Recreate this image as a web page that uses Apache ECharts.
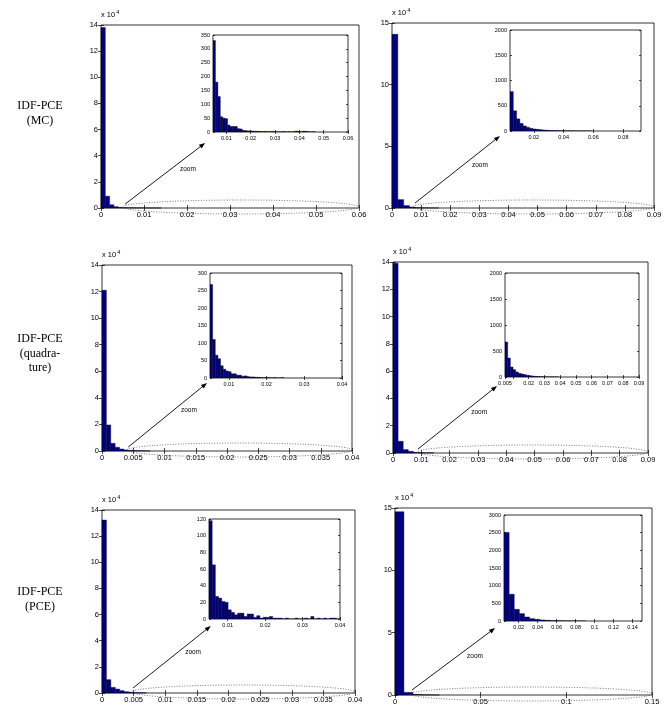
<!DOCTYPE html>
<html>
<head>
<meta charset="utf-8">
<script src="https://cdn.jsdelivr.net/npm/echarts@6/dist/echarts.min.js"></script>
<style>
html, body { margin: 0; background: #fff; }
#main { width: 665px; height: 716px; }
</style>
</head>
<body>
<div id="main"></div>
<script>
// ---- histogram data: counts per bin (main panels in units of 10^4) ----
var mcLeftMainBin = 0.001, mcLeftMainStart = 0;
var mcLeftMain = [13.8, 0.9, 0.25, 0.1, 0.05, 0.03, 0.02, 0.015, 0.01, 0.01, 0.005, 0.005, 0.004, 0.003];
var mcLeftZoomBin = 0.001, mcLeftZoomStart = 0.0045;
var mcLeftZoom = [330, 180, 128, 55, 50, 48, 25, 20, 20, 20, 12, 11, 6, 5, 4, 4, 3, 3, 2, 2, 1, 2, 1, 1, 2, 1, 1, 0, 1, 1, 0, 1, 0, 2, 3, 2, 1, 3, 2, 1, 0, 1];

var mcRightMainBin = 0.002, mcRightMainStart = 0;
var mcRightMain = [14.08, 0.68, 0.2, 0.08, 0.03, 0.015, 0.01, 0.005];
var mcRightZoomBin = 0.0022, mcRightZoomStart = 0.004;
var mcRightZoom = [780, 400, 240, 150, 100, 73, 53, 40, 33, 26, 18, 14, 10, 8, 6, 5, 4, 3, 2, 2, 1, 1, 1, 0, 1];

var quadLeftMainBin = 0.0007, quadLeftMainStart = 0;
var quadLeftMain = [12.1, 1.96, 0.58, 0.28, 0.15, 0.08, 0.05, 0.03, 0.02, 0.01, 0.01];
var quadLeftZoomBin = 0.0007, quadLeftZoomStart = 0.005;
var quadLeftZoom = [267, 110, 65, 55, 35, 25, 20, 18, 12, 12, 8, 8, 5, 6, 4, 3, 3, 2, 2, 1, 1, 1, 1, 0, 1, 0, 0, 1];

var quadRightMainBin = 0.0018, quadRightMainStart = 0;
var quadRightMain = [13.9, 0.86, 0.25, 0.12, 0.05, 0.03, 0.015, 0.01];
var quadRightZoomBin = 0.0017, quadRightZoomStart = 0.005;
var quadRightZoom = [673, 365, 192, 140, 96, 70, 58, 45, 32, 25, 18, 12, 9, 6, 4, 3, 2, 2, 1, 1];

var pceLeftMainBin = 0.0007, pceLeftMainStart = 0;
var pceLeftMain = [13.23, 1.02, 0.43, 0.3, 0.18, 0.1, 0.06, 0.04, 0.02, 0.01];
var pceLeftZoomBin = 0.00085, pceLeftZoomStart = 0.005;
var pceLeftZoom = [118, 65, 27, 25, 21, 20, 11, 8, 5, 7, 7, 3, 6, 6, 2, 4, 1, 2, 2, 3, 1, 1, 1, 0, 1, 0, 0, 1, 0, 0, 1, 0, 3, 0, 1, 0, 1, 0, 1, 1, 0];

var pceRightMainBin = 0.0052, pceRightMainStart = 0;
var pceRightMain = [14.7, 0.21, 0.05, 0.015, 0.005];
var pceRightZoomBin = 0.0054, pceRightZoomStart = 0.0045;
var pceRightZoom = [2507, 757, 331, 208, 113, 66, 47, 30, 20, 12, 8, 5, 3, 2, 1, 1];

// ---- tick labels ----
var xTicks006 = [0, 0.01, 0.02, 0.03, 0.04, 0.05, 0.06];
var xTicks009 = [0, 0.01, 0.02, 0.03, 0.04, 0.05, 0.06, 0.07, 0.08, 0.09];
var xTicks004 = [0, 0.005, 0.01, 0.015, 0.02, 0.025, 0.03, 0.035, 0.04];
var xTicks015 = [0, 0.05, 0.1, 0.15];
var yTicks14 = [0, 2, 4, 6, 8, 10, 12, 14];
var yTicks15 = [0, 5, 10, 15];

var zxTicks1 = [0.01, 0.02, 0.03, 0.04, 0.05, 0.06];
var zxTicks2 = [0.02, 0.04, 0.06, 0.08];
var zxTicks3 = [0.01, 0.02, 0.03, 0.04];
var zxTicks4 = [0.005, 0.01, 0.02, 0.03, 0.04, 0.05, 0.06, 0.07, 0.08, 0.09];
var zxLabels4 = [0.005, 0.02, 0.03, 0.04, 0.05, 0.06, 0.07, 0.08, 0.09];
var zxTicks6 = [0.02, 0.04, 0.06, 0.08, 0.1, 0.12, 0.14];
var zyTicks1 = [0, 50, 100, 150, 200, 250, 300, 350];
var zyTicks2000 = [0, 500, 1000, 1500, 2000];
var zyTicks3 = [0, 50, 100, 150, 200, 250, 300];
var zyTicks5 = [0, 20, 40, 60, 80, 100, 120];
var zyTicks6 = [0, 500, 1000, 1500, 2000, 2500, 3000];

var rowLabels = [
  {lines: ['IDF-PCE', '(MC)'], y: 99},
  {lines: ['IDF-PCE', '(quadra-', 'ture)'], y: 332},
  {lines: ['IDF-PCE', '(PCE)'], y: 585}
];

var panels = [
  {box: [101, 25, 258, 183], xr: [0, 0.06], xt: xTicks006, yr: [0, 14], yt: yTicks14,
   counts: mcLeftMain, start: mcLeftMainStart, bw: mcLeftMainBin,
   inset: {box: [213, 35, 135, 97], xr: [0.0045, 0.06], xt: zxTicks1, xl: zxTicks1, yr: [0, 350], yt: zyTicks1,
           counts: mcLeftZoom, start: mcLeftZoomStart, bw: mcLeftZoomBin},
   ann: {ellipse: [0.005, 0.06], from: [0.0056, 0.3], to: [0.0242, 4.97], text: [0.0202, 2.98]}},
  {box: [392, 23, 262, 185], xr: [0, 0.09], xt: xTicks009, yr: [0, 15], yt: yTicks15,
   counts: mcRightMain, start: mcRightMainStart, bw: mcRightMainBin,
   inset: {box: [510, 30, 131, 101], xr: [0.004, 0.092], xt: zxTicks2, xl: zxTicks2, yr: [0, 2000], yt: zyTicks2000,
           counts: mcRightZoom, start: mcRightZoomStart, bw: mcRightZoomBin},
   ann: {ellipse: [0.0069, 0.09], from: [0.0079, 0.4], to: [0.0371, 5.84], text: [0.0302, 3.49]}},
  {box: [102, 265, 250, 186], xr: [0, 0.04], xt: xTicks004, yr: [0, 14], yt: yTicks14,
   counts: quadLeftMain, start: quadLeftMainStart, bw: quadLeftMainBin,
   inset: {box: [210, 273, 132, 105], xr: [0.005, 0.04], xt: zxTicks3, xl: zxTicks3, yr: [0, 300], yt: zyTicks3,
           counts: quadLeftZoom, start: quadLeftZoomStart, bw: quadLeftZoomBin},
   ann: {ellipse: [0.004, 0.04], from: [0.0042, 0.3], to: [0.0168, 5.12], text: [0.0139, 3.09]}},
  {box: [393, 262, 255, 191], xr: [0, 0.09], xt: xTicks009, yr: [0, 14], yt: yTicks14,
   counts: quadRightMain, start: quadRightMainStart, bw: quadRightMainBin,
   inset: {box: [505, 273, 134, 104], xr: [0.005, 0.09], xt: zxTicks4, xl: zxLabels4, yr: [0, 2000], yt: zyTicks2000,
           counts: quadRightZoom, start: quadRightZoomStart, bw: quadRightZoomBin},
   ann: {ellipse: [0.0085, 0.09], from: [0.0088, 0.29], to: [0.0367, 4.91], text: [0.0304, 3.0]}},
  {box: [102, 510, 253, 183], xr: [0, 0.04], xt: xTicks004, yr: [0, 14], yt: yTicks14,
   counts: pceLeftMain, start: pceLeftMainStart, bw: pceLeftMainBin,
   inset: {box: [209, 519, 131, 100], xr: [0.005, 0.04], xt: zxTicks3, xl: zxTicks3, yr: [0, 120], yt: zyTicks5,
           counts: pceLeftZoom, start: pceLeftZoomStart, bw: pceLeftZoomBin},
   ann: {ellipse: [0.0047, 0.04], from: [0.0049, 0.38], to: [0.0172, 5.13], text: [0.0144, 3.14]}},
  {box: [395, 508, 257, 187], xr: [0, 0.15], xt: xTicks015, yr: [0, 15], yt: yTicks15,
   counts: pceRightMain, start: pceRightMainStart, bw: pceRightMainBin,
   inset: {box: [504, 515, 138, 106], xr: [0.0045, 0.15], xt: zxTicks6, xl: zxTicks6, yr: [0, 3000], yt: zyTicks6,
           counts: pceRightZoom, start: pceRightZoomStart, bw: pceRightZoomBin},
   ann: {ellipse: [0.0088, 0.15], from: [0.0099, 0.4], to: [0.0584, 5.37], text: [0.0467, 3.13]}}
];

var grids = [], xAxes = [], yAxes = [], series = [];
var FONT = 'Liberation Sans, Arial, sans-serif';

function fmt(v) { return String(+v.toPrecision(6)); }

// one boxed axes with ticks on all four sides (matlab style)
function addAxes(a, fs, tickLen, yName) {
  var g = grids.length;
  grids.push({left: a.box[0], top: a.box[1], width: a.box[2], height: a.box[3],
    show: true, borderColor: '#000', borderWidth: 0.8, backgroundColor: '#fff'});
  var xi = xAxes.length, yi = yAxes.length;
  ['bottom', 'top'].forEach(function (pos, k) {
    xAxes.push({type: 'value', gridIndex: g, position: pos, min: a.xr[0], max: a.xr[1],
      splitLine: {show: false}, axisLine: {show: false},
      axisTick: {show: true, inside: true, length: tickLen, customValues: a.xt, lineStyle: {color: '#000', width: 0.7}},
      axisLabel: {show: k === 0, customValues: a.xl || a.xt, formatter: fmt, fontSize: fs, color: '#000', margin: 3, fontFamily: FONT}});
  });
  ['left', 'right'].forEach(function (pos, k) {
    var ax = {type: 'value', gridIndex: g, position: pos, min: a.yr[0], max: a.yr[1],
      splitLine: {show: false}, axisLine: {show: false},
      axisTick: {show: true, inside: true, length: tickLen, customValues: a.yt, lineStyle: {color: '#000', width: 0.7}},
      axisLabel: {show: k === 0, customValues: a.yt, formatter: fmt, fontSize: fs, color: '#000', margin: 3, fontFamily: FONT}};
    if (k === 0 && yName) {
      ax.name = 'x 10{s|4}';
      ax.nameLocation = 'end';
      ax.nameGap = 4;
      ax.nameTextStyle = {fontSize: 7.5, color: '#000', align: 'left', fontFamily: FONT,
        rich: {s: {fontSize: 5.5, color: '#000', fontFamily: FONT, padding: [0, 0, 6, 1]}}};
    }
    yAxes.push(ax);
  });
  return {x: xi, y: yi};
}

function histData(start, bw, counts) {
  return counts.map(function (c, i) {
    return [start + i * bw, start + (i + 1) * bw, c];
  });
}

function histRender(params, api) {
  var p0 = api.coord([api.value(0), api.value(2)]);
  var p1 = api.coord([api.value(1), 0]);
  return {type: 'rect', shape: {x: p0[0], y: p0[1], width: p1[0] - p0[0], height: p1[1] - p0[1]},
    style: {fill: '#000080', stroke: '#000', lineWidth: 0.4}};
}

panels.forEach(function (p) {
  var m = addAxes(p, 7.5, 3, true);
  series.push({type: 'custom', xAxisIndex: m.x, yAxisIndex: m.y, silent: true, z: 3,
    encode: {x: [0, 1], y: 2}, data: histData(p.start, p.bw, p.counts), renderItem: histRender});

  // dotted ellipse, arrow and "zoom" label
  var ann = p.ann;
  series.push({type: 'custom', xAxisIndex: m.x, yAxisIndex: m.y, silent: true, clip: false, z: 4,
    data: [[0, 0]],
    renderItem: function (params, api) {
      var a = api.coord([ann.ellipse[0], 0]), b = api.coord([ann.ellipse[1], 0]);
      var cx = (a[0] + b[0]) / 2, rx = (b[0] - a[0]) / 2, cy = a[1] - 1, ry = 7;
      var pts = [];
      for (var t = 0; t <= 90; t++) {
        var th = t / 90 * 2 * Math.PI;
        pts.push([cx + rx * Math.cos(th), cy + ry * Math.sin(th)]);
      }
      var s = api.coord(ann.from), e = api.coord(ann.to);
      var ang = Math.atan2(e[1] - s[1], e[0] - s[0]);
      var hl = 6, hw = 2.3, c = Math.cos(ang), sn = Math.sin(ang);
      var head = [e,
        [e[0] - hl * c + hw * sn, e[1] - hl * sn - hw * c],
        [e[0] - hl * c - hw * sn, e[1] - hl * sn + hw * c]];
      var tp = api.coord(ann.text);
      return {type: 'group', children: [
        {type: 'polyline', shape: {points: pts}, style: {stroke: '#555', fill: null, lineWidth: 0.8, lineDash: [1, 1.6]}},
        {type: 'line', shape: {x1: s[0], y1: s[1], x2: e[0] - hl * 0.7 * c, y2: e[1] - hl * 0.7 * sn}, style: {stroke: '#000', lineWidth: 0.9}},
        {type: 'polygon', shape: {points: head}, style: {fill: '#000'}},
        {type: 'text', x: tp[0], y: tp[1], style: {text: 'zoom', fontSize: 6.5, fill: '#000', align: 'center', verticalAlign: 'middle', fontFamily: FONT}}
      ]};
    }});

  var z = addAxes(p.inset, 5.5, 2, false);
  series.push({type: 'custom', xAxisIndex: z.x, yAxisIndex: z.y, silent: true, clip: true, z: 5,
    encode: {x: [0, 1], y: 2}, data: histData(p.inset.start, p.inset.bw, p.inset.counts), renderItem: histRender});
});

var graphics = rowLabels.map(function (r) {
  return {type: 'text', x: 40, y: r.y, silent: true,
    style: {text: r.lines.join('\n'), fontSize: 12, lineHeight: 14.5, fontFamily: 'Liberation Serif, serif',
      fill: '#000', align: 'center', verticalAlign: 'top'}};
});

var chart = echarts.init(document.getElementById('main'), null, {renderer: 'canvas'});
chart.setOption({
  backgroundColor: '#fff',
  animation: false,
  grid: grids,
  xAxis: xAxes,
  yAxis: yAxes,
  series: series,
  graphic: graphics
});
</script>
</body>
</html>
